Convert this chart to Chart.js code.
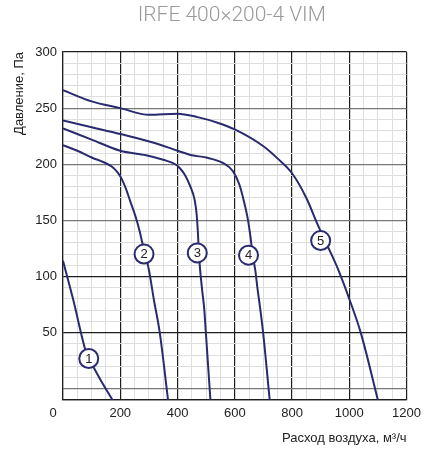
<!DOCTYPE html>
<html>
<head>
<meta charset="utf-8">
<script src="https://cdn.jsdelivr.net/npm/chart.js@4/dist/chart.umd.min.js"></script>
<style>
html,body{margin:0;padding:0;background:#fff;}
#wrap{width:427px;height:450px;position:relative;}
</style>
</head>
<body>
<div id="wrap"><canvas id="c" width="427" height="450"></canvas></div>
<script>
// ---- data ----
const chartTitle = "IRFE 400×200-4 VIM";
const xAxisTitle = "Расход воздуха, м³/ч";
const yAxisTitle = "Давление, Па";
const xTickLabels = ["0", "200", "400", "600", "800", "1000", "1200"];
const yTickLabels = ["50", "100", "150", "200", "250", "300"];

const c1x = [0, 36, 80, 90, 105, 140, 173];
const c1y = [114, 79, 33, 27, 20, 4, -10];

const c2x = [0, 50, 100, 140, 170, 190, 205, 220, 235, 254, 268, 277, 290, 300, 317, 338, 367];
const c2y = [217, 212, 206, 202, 198, 193, 187, 178, 167, 153, 140, 130, 117, 106, 80, 50, -10];

const c3x = [0, 100, 200, 290, 350, 392, 410, 427, 445, 460, 467, 471, 474, 478, 486, 493, 499, 515];
const c3y = [232, 222, 212, 208, 204, 200, 196, 190, 180, 168, 155, 140, 125, 109, 88, 72, 50, -10];

const c4x = [0, 100, 200, 320, 400, 450, 500, 560, 593, 616, 633, 645, 655, 662, 672, 679, 687, 699, 722];
const c4y = [239, 233, 227, 219, 212, 208, 206, 201, 194, 182, 166, 152, 135, 120, 105, 90, 75, 50, -10];

const c5x = [0, 100, 200, 300, 400, 470, 540, 600, 700, 750, 800, 850, 890, 930, 960, 1000, 1040, 1100];
const c5y = [266, 256, 250, 244, 245, 242, 237, 231, 216, 205, 192, 170, 146, 124, 107, 80, 50, -10];

const labelText = ["1", "2", "3", "4", "5"];
const labelX = [90, 283, 469, 648, 900];
const labelY = [27, 120, 121, 119, 132];

// ---- build ----
const NAVY = '#2a2a6e';
const curves = [[c1x, c1y], [c2x, c2y], [c3x, c3y], [c4x, c4y], [c5x, c5y]];
const datasets = curves.map(([xs, ys]) => ({
  data: xs.map((x, i) => ({x: x, y: ys[i]})),
  showLine: true,
  borderColor: NAVY,
  borderWidth: 2,
  pointRadius: 0,
  cubicInterpolationMode: 'monotone',
  fill: false,
  clip: 0
}));

const FONT = 'Liberation Sans, Arial, sans-serif';

const overlay = {
  id: 'overlay',
  afterDatasetsDraw(chart) {
    const ctx = chart.ctx;
    const xs = chart.scales.x, ys = chart.scales.y;
    ctx.save();
    for (let i = 0; i < labelText.length; i++) {
      const px = xs.getPixelForValue(labelX[i]);
      const py = ys.getPixelForValue(labelY[i]);
      ctx.beginPath();
      ctx.arc(px, py, 9.5, 0, Math.PI * 2);
      ctx.fillStyle = '#fff';
      ctx.fill();
      ctx.lineWidth = 2;
      ctx.strokeStyle = NAVY;
      ctx.stroke();
      ctx.fillStyle = '#222';
      ctx.font = '13px ' + FONT;
      ctx.textAlign = 'center';
      ctx.textBaseline = 'middle';
      ctx.fillText(labelText[i], px, py + 0.5);
    }
    ctx.restore();
  },
  afterDraw(chart) {
    const ctx = chart.ctx;
    const ca = chart.chartArea;
    ctx.save();
    // title
    ctx.fillStyle = '#9a9a9a';
    ctx.font = '300 21px Roboto, ' + FONT;
    ctx.textAlign = 'center';
    ctx.textBaseline = 'middle';
    ctx.fillText(chartTitle, (ca.left + ca.right) / 2 - 3, 16);
    // origin "0" label
    ctx.fillStyle = '#222';
    ctx.font = '13px ' + FONT;
    ctx.fillText(xTickLabels[0], ca.left - 10, ca.bottom + 13);
    ctx.restore();
  }
};

new Chart(document.getElementById('c'), {
  type: 'scatter',
  data: {datasets: datasets},
  plugins: [overlay],
  options: {
    responsive: false,
    animation: false,
    layout: {padding: {top: 52, right: 16, left: 0, bottom: 0}},
    plugins: {legend: {display: false}, tooltip: {enabled: false}, title: {display: false}},
    scales: {
      x: {
        type: 'linear', min: 0, max: 1200,
        afterFit: s => { s.height = 50; },
        ticks: {
          stepSize: 50, autoSkip: false, maxRotation: 0, padding: 6,
          color: '#222', font: {family: FONT, size: 13},
          callback: v => (v % 200 === 0 && v > 0) ? xTickLabels[v / 200] : ''
        },
        grid: {
          drawTicks: false,
          color: c => (c.tick && c.tick.value % 200 === 0) ? '#1e1e1e' : '#dedede',
          lineWidth: c => (c.tick && c.tick.value % 200 === 0) ? 1.2 : 1
        },
        border: {color: '#1e1e1e', width: 1.2},
        title: {display: true, text: xAxisTitle, align: 'end', color: '#222',
          font: {family: FONT, size: 13}, padding: {top: 0, bottom: 4}}
      },
      y: {
        type: 'linear', min: -10, max: 300,
        afterFit: s => { s.width = 63; },
        ticks: {
          stepSize: 10, autoSkip: false, padding: 6,
          color: '#222', font: {family: FONT, size: 13},
          callback: v => (v % 50 === 0 && v > 0) ? yTickLabels[v / 50 - 1] : ''
        },
        grid: {
          drawTicks: false,
          color: c => {
            const v = c.tick ? c.tick.value : 0;
            if (v === -10 || v === 300 || v === 50 || v === 100) return '#1e1e1e';
            if (v % 50 === 0) return '#777';
            return '#dedede';
          },
          lineWidth: c => {
            const v = c.tick ? c.tick.value : 0;
            return (v % 50 === 0 || v === -10) ? 1.2 : 1;
          }
        },
        border: {color: '#1e1e1e', width: 1.2},
        title: {display: true, text: yAxisTitle, align: 'end', color: '#222',
          font: {family: FONT, size: 13}, padding: {top: 12, bottom: 0}}
      }
    }
  }
});
</script>
</body>
</html>
